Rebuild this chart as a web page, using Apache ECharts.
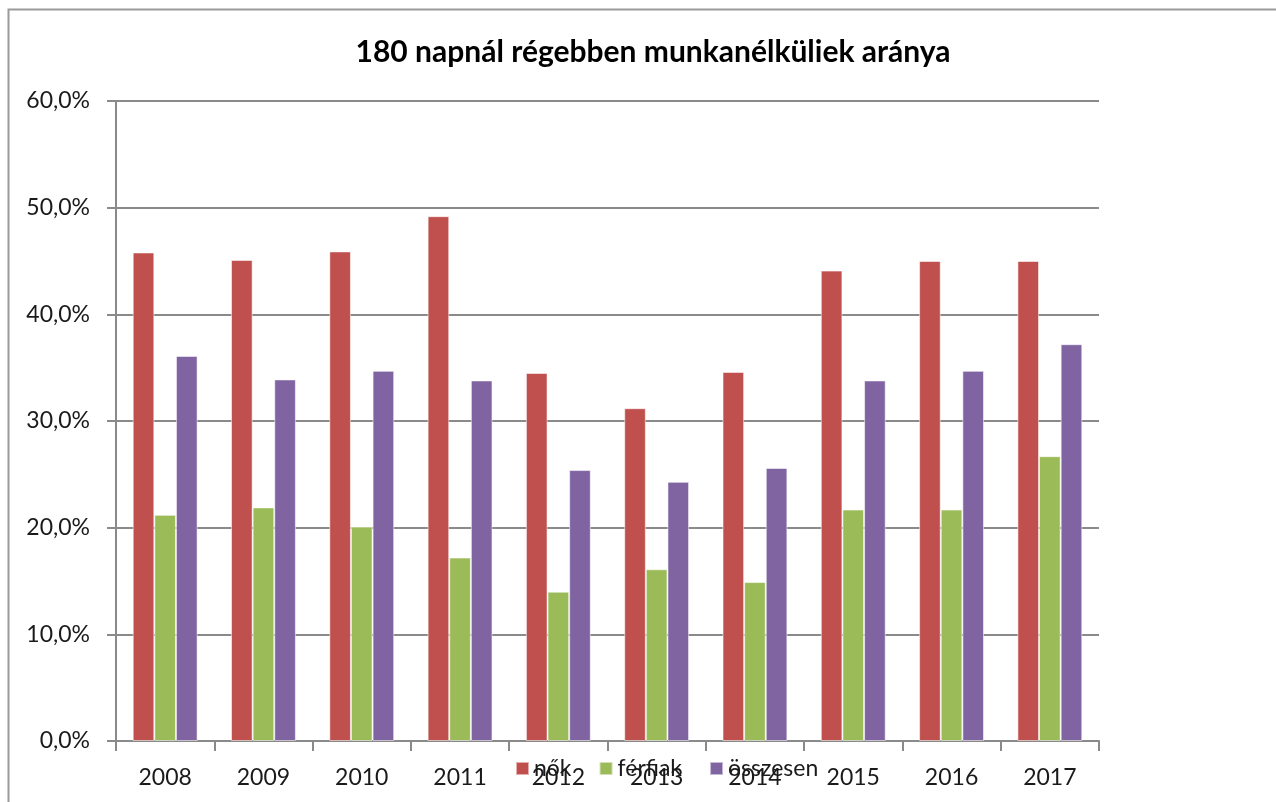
<!DOCTYPE html>
<html>
<head>
<meta charset="utf-8">
<script src="https://cdn.jsdelivr.net/npm/echarts@6/dist/echarts.min.js"></script>
<style>
  html, body { margin: 0; padding: 0; background: #fff; }
  #chart { width: 1276px; height: 802px; }
</style>
</head>
<body>
<div id="chart"></div>
<script>
const years = ["2008", "2009", "2010", "2011", "2012", "2013", "2014", "2015", "2016", "2017"];
const nok = [45.8, 45.1, 45.9, 49.2, 34.5, 31.2, 34.6, 44.1, 45.0, 45.0];
const ferfiak = [21.2, 21.9, 20.1, 17.2, 14.0, 16.1, 14.9, 21.7, 21.7, 26.7];
const osszesen = [36.1, 33.9, 34.7, 33.8, 25.4, 24.3, 25.6, 33.8, 34.7, 37.2];

const font = "Lato, 'Open Sans', sans-serif";
const gridGray = "#8a8a8a";

function bar(name, data, color) {
  return {
    name: name,
    type: "bar",
    data: data,
    barGap: "0%",
    barCategoryGap: "34%",
    itemStyle: { color: color, borderColor: "rgba(255,255,255,0.55)", borderWidth: 1 },
  };
}

let chart = echarts.init(document.getElementById("chart"));
chart.setOption({
  animation: false,
  textStyle: { fontFamily: font, color: "#1a1a1a" },
  title: {
    text: "180 napnál régebben munkanélküliek aránya",
    left: 648,
    top: 32,
    textAlign: "center",
    textStyle: { fontFamily: font, fontSize: 30, fontWeight: "bold", color: "#000" },
  },
  legend: {
    left: 510,
    top: 752,
    itemWidth: 13,
    itemHeight: 13,
    itemGap: 27,
    icon: "rect",
    textStyle: { fontFamily: font, fontSize: 23, color: "#1a1a1a", padding: [0, 0, 0, 0] },
    data: ["nők", "férfiak", "összesen"],
  },
  graphic: [
    {
      type: "polyline",
      shape: { points: [[8.5, 802], [8.5, 9.5], [1276, 9.5]] },
      style: { stroke: "#9a9a9a", lineWidth: 2, fill: null },
    },
  ],
  grid: { left: 116, right: 177, top: 101, bottom: 61 },
  xAxis: {
    type: "category",
    data: years,
    boundaryGap: true,
    axisLine: { lineStyle: { color: gridGray, width: 2 } },
    axisTick: { show: true, length: 10, lineStyle: { color: gridGray, width: 2 } },
    axisLabel: { fontFamily: font, fontSize: 23, color: "#1a1a1a", margin: 25 },
  },
  yAxis: {
    type: "value",
    min: 0,
    max: 60,
    interval: 10,
    axisLine: { show: true, lineStyle: { color: gridGray, width: 2 } },
    axisTick: { show: true, length: 9, lineStyle: { color: gridGray, width: 2 } },
    splitLine: { lineStyle: { color: gridGray, width: 2 } },
    axisLabel: {
      fontFamily: font,
      fontSize: 23,
      color: "#1a1a1a",
      margin: 26,
      formatter: (v) => v.toFixed(1).replace(".", ",") + "%",
    },
  },
  series: [
    bar("nők", nok, "#C0504D"),
    bar("férfiak", ferfiak, "#9BBB59"),
    bar("összesen", osszesen, "#8064A2"),
  ],
});
</script>
</body>
</html>
